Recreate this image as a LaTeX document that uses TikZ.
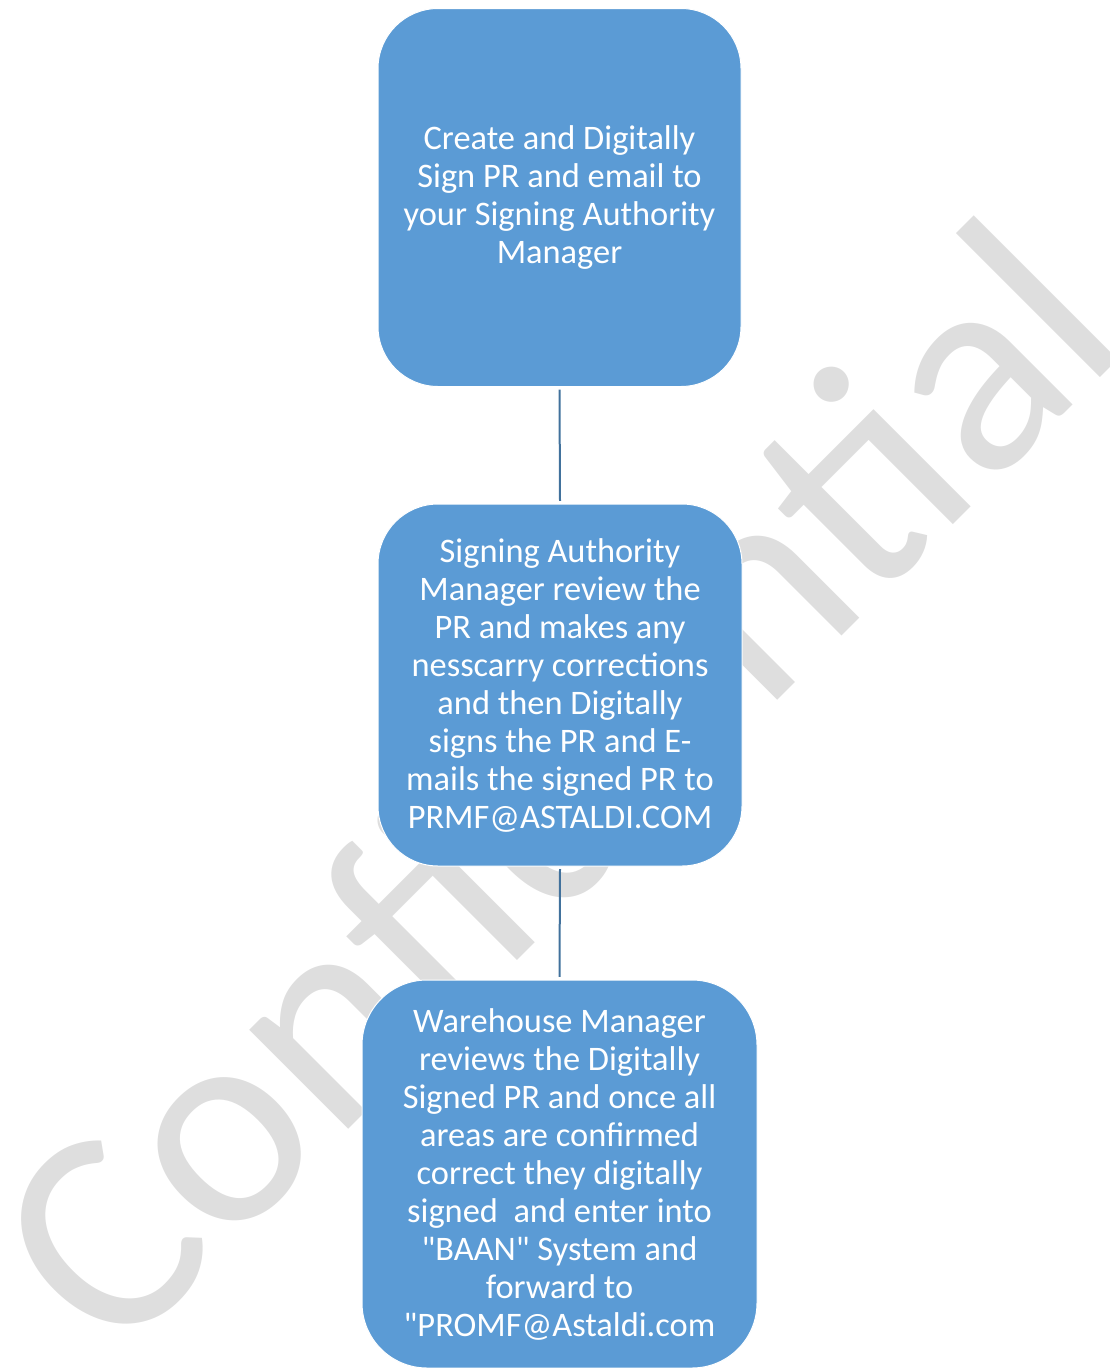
\documentclass[tikz,border=0pt]{standalone}
\usepackage{fontspec}
\setmainfont{Carlito}[Ligatures=TeXOff]
\usepackage{tikz}

\definecolor{boxblue}{HTML}{5B9BD5}
\definecolor{linkblue}{HTML}{41719C}
\definecolor{markgray}{HTML}{DEDEDE}

\begin{document}
\begin{tikzpicture}[
    x=0.75pt, y=-0.75pt,
    flow_box/.style={rectangle, rounded corners=45pt, fill=boxblue, draw=white, line width=0.75pt,
        text=white, align=center, inner sep=0pt, font=\fontsize{25.8}{28.5}\selectfont},
    link/.style={draw=linkblue, line width=1.5pt},
    mark_text/.style={text=markgray, inner sep=0pt, rotate=45, anchor=base west,
        font=\fontsize{220}{220}\selectfont}
]
    \useasboundingbox (0,0) rectangle (1110,1368);
    % watermark behind the boxes
    \begin{scope}
        \clip (0,0) rectangle (1110,1368);
        \node[mark_text] (wm) at (114,1364) {Confidential};
    \end{scope}
        \node[flow_box, minimum width=272.25pt, minimum height=283.5pt] (create) at (559.5,197.5)
            {Create and Digitally\\Sign PR and email to\\your Signing Authority\\Manager};
        \node[flow_box, minimum width=273pt, minimum height=271.5pt] (review) at (560,685)
            {Signing Authority\\Manager review the\\PR and makes any\\nesscarry corrections\\and then Digitally\\signs the PR and E-\\mails the signed PR to\\PRMF@ASTALDI.COM};
        \node[flow_box, minimum width=296.25pt, minimum height=291pt, rounded corners=48.75pt] (warehouse) at (559.5,1174)
            {Warehouse Manager\\reviews the Digitally\\Signed PR and once all\\areas are confirmed\\correct they digitally\\signed\ \ and enter into\\"BAAN" System and\\forward to\\"PROMF@Astaldi.com};
    \draw [link] ([yshift=-2pt]create.south) -- ([yshift=2pt]review.north);
    \draw [link] ([yshift=-2pt]review.south) -- ([yshift=2pt]warehouse.north);

\end{tikzpicture}
\end{document}
